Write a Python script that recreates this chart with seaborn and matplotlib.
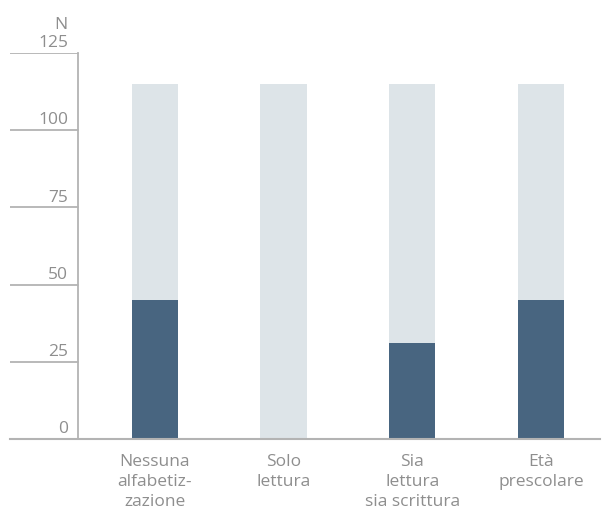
import matplotlib
matplotlib.use("Agg")
import matplotlib.pyplot as plt
import pandas as pd
import seaborn as sns

# values
categories = ["Nessuna\nalfabetiz-\nzazione", "Solo\nlettura", "Sia\nlettura\nsia scrittura", "Età\nprescolare"]
totals = [115, 115, 115, 115]
dark_values = [45, 0, 31, 45]
y_ticks = [0, 25, 50, 75, 100, 125]

df = pd.DataFrame({"cat": categories, "total": totals, "dark": dark_values})

sns.set_theme(style="white")
plt.rcParams["font.family"] = ["Open Sans", "DejaVu Sans"]

fig = plt.figure(figsize=(6.04, 5.2), dpi=100)
ax = fig.add_axes([10 / 604, 81 / 520, 590 / 604, 386 / 520])

light = "#dde4e8"
dark = "#486580"
grey_line = "#b3b3b3"
grey_text = "#8e8e8e"

sns.barplot(data=df, x="cat", y="total", color=light, width=0.36, saturation=1, ax=ax,
            order=categories, linewidth=0)
sns.barplot(data=df, x="cat", y="dark", color=dark, width=0.36, saturation=1, ax=ax,
            order=categories, linewidth=0)

ax.set_xlim(-1.127, 3.46)
ax.set_ylim(0, 125)
ax.set_xlabel("")
ax.set_ylabel("")

for s in ["top", "right"]:
    ax.spines[s].set_visible(False)
ax.spines["left"].set_position(("data", -0.598))
ax.spines["left"].set_color(grey_line)
ax.spines["left"].set_linewidth(1.3)
ax.spines["bottom"].set_color(grey_line)
ax.spines["bottom"].set_linewidth(1.5)

# short reference lines left of the y axis, label sitting on top
ax.set_yticks([])
frac = (78 - 10) / 590
for t in y_ticks:
    ax.axhline(t, xmin=0, xmax=frac, color=grey_line, lw=1.3, zorder=0)
    ax.text(frac - 10 / 590, t + 0.6, str(t), transform=ax.get_yaxis_transform(),
            ha="right", va="bottom", fontsize=12.5, color=grey_text)
ax.text(frac - 10 / 590, 1.052, "N", transform=ax.transAxes,
        ha="right", va="bottom", fontsize=12.5, color=grey_text)

ax.tick_params(axis="x", length=0, pad=11, labelsize=12.5, labelcolor=grey_text)
for lbl in ax.get_xticklabels():
    lbl.set_linespacing(1.32)

fig.savefig("out.png", dpi=100)
